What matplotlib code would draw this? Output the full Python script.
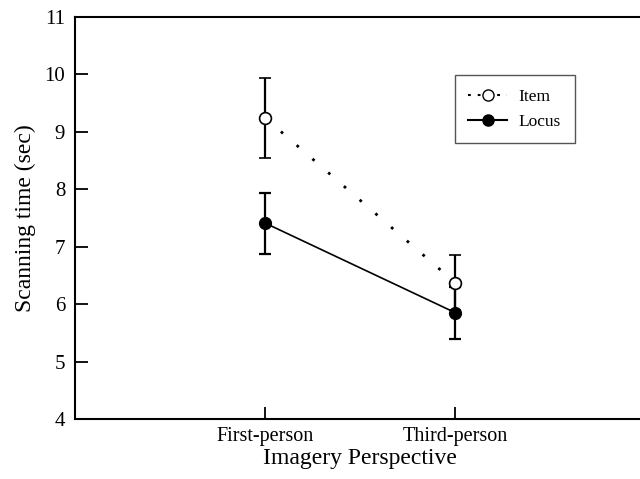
import matplotlib.pyplot as plt
from matplotlib.lines import Line2D

# data
perspectives = ["First-person", "Third-person"]
item_means = [9.24, 6.37]
item_err = [0.70, 0.48]
locus_means = [7.41, 5.85]
locus_err = [0.53, 0.45]

plt.rcParams["font.family"] = ["Liberation Serif", "DejaVu Serif"]
plt.rcParams["lines.scale_dashes"] = False

fig = plt.figure(figsize=(6.4, 4.79), dpi=100)
ax = fig.add_axes([0.117, 0.125, 0.892, 0.84])

x = [1, 2]

ax.errorbar(x, item_means, yerr=item_err, color="black", linestyle=(0, (2, 13)),
            linewidth=2, marker="o", markersize=8.5, markerfacecolor="white",
            markeredgecolor="black", markeredgewidth=1.2, ecolor="black",
            elinewidth=1.6, capsize=4, capthick=1.6, zorder=3)
ax.errorbar(x, locus_means, yerr=locus_err, color="black", linestyle="-",
            linewidth=1.2, marker="o", markersize=8.5, markerfacecolor="black",
            markeredgecolor="black", ecolor="black", elinewidth=1.6,
            capsize=4, capthick=1.6, zorder=3)

ax.set_xlim(0, 3)
ax.set_ylim(4, 11)
ax.set_xticks(x)
ax.set_xticklabels(perspectives, fontsize=14.5)
ax.set_yticks(range(4, 12))
ax.tick_params(axis="y", direction="in", length=9, width=1.3, labelsize=15, pad=7)
ax.tick_params(axis="x", direction="in", length=9, width=1.3, pad=6)

for s in ax.spines.values():
    s.set_linewidth(1.5)

ax.set_xlabel("Imagery Perspective", fontsize=17, labelpad=1)
ax.set_ylabel("Scanning time (sec)", fontsize=17, labelpad=6)

# legend without the error bar glyphs
handles = [
    Line2D([], [], color="black", linestyle=(0, (2, 5)), linewidth=1.5,
           marker="o", markersize=8, markerfacecolor="white", markeredgecolor="black"),
    Line2D([], [], color="black", linestyle="-", linewidth=1.5,
           marker="o", markersize=8, markerfacecolor="black"),
]
leg = ax.legend(handles, ["Item", "Locus"], loc="upper left",
                bbox_to_anchor=(0.665, 0.856), borderaxespad=0, fontsize=12.5,
                fancybox=False, framealpha=1, edgecolor="#555555",
                handlelength=2.2, borderpad=0.8, labelspacing=0.5,
                handletextpad=0.7)
leg.get_frame().set_linewidth(1.0)

fig.savefig("out.png", dpi=100)
